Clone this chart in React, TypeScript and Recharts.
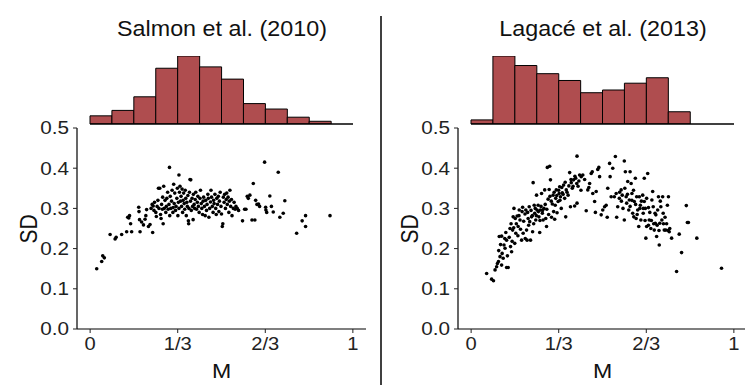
import React from "react";
import {
  BarChart,
  Bar,
  XAxis,
  YAxis,
  ReferenceLine,
  ScatterChart,
  Scatter,
} from "recharts";

const FONT = '"Liberation Sans", Arial, Helvetica, sans-serif';
const BAR_FILL = "#AF4D4F";

// Panel titles and axis labels
const panelTitles = ["Salmon et al. (2010)", "Lagacé et al. (2013)"];
const xAxisTitle = "M";
const yAxisTitle = "SD";

// Ticks
const xTickValues = [0, 1 / 3, 2 / 3, 1];
const xTickLabels = ["0", "1/3", "2/3", "1"];
const yTickValues = [0, 0.1, 0.2, 0.3, 0.4, 0.5];
const yTickLabels = ["0.0", "0.1", "0.2", "0.3", "0.4", "0.5"];

// Histogram bins (12 bins of width 1/12 over M in [0,1])
const binLabels = ["b1", "b2", "b3", "b4", "b5", "b6", "b7", "b8", "b9", "b10", "b11", "b12"];
const salmonHist = [6, 10, 20, 41, 50, 42, 33, 15, 11, 5, 2, 0];
const lagaceHist = [3, 50, 43, 37, 32, 23, 25, 30, 34, 9, 0, 0];

// Scatter points [M, SD]
const salmonPoints: [number, number][] = [
  [0.025, 0.15], [0.044, 0.168], [0.048, 0.182], [0.054, 0.177], [0.076, 0.235], [0.095, 0.224], [0.099, 0.228],
  [0.12, 0.235], [0.139, 0.242], [0.143, 0.278], [0.15, 0.282], [0.154, 0.262], [0.158, 0.242], [0.147, 0.276],
  [0.185, 0.303], [0.186, 0.292], [0.188, 0.272], [0.19, 0.242], [0.196, 0.266], [0.203, 0.259], [0.209, 0.273], [0.215, 0.297], [0.212, 0.282],
  [0.222, 0.255], [0.228, 0.26], [0.238, 0.24], [0.232, 0.3], [0.236, 0.31], [0.24, 0.306], [0.245, 0.315], [0.243, 0.295], [0.25, 0.29],
  [0.252, 0.28], [0.255, 0.305], [0.258, 0.32], [0.26, 0.35], [0.265, 0.35], [0.262, 0.3], [0.268, 0.285], [0.27, 0.275], [0.272, 0.31],
  [0.275, 0.298], [0.278, 0.262], [0.28, 0.355], [0.276, 0.328],
  [0.282, 0.3], [0.285, 0.32], [0.288, 0.29], [0.29, 0.305], [0.292, 0.325], [0.295, 0.34], [0.297, 0.298], [0.3, 0.31], [0.302, 0.402],
  [0.303, 0.282], [0.305, 0.33], [0.307, 0.3], [0.31, 0.318], [0.312, 0.345], [0.315, 0.29], [0.316, 0.302], [0.318, 0.36], [0.32, 0.312],
  [0.322, 0.338], [0.325, 0.295], [0.327, 0.305], [0.33, 0.325], [0.332, 0.35], [0.334, 0.282], [0.336, 0.315], [0.338, 0.383], [0.34, 0.34], [0.338, 0.3],
  [0.342, 0.355], [0.344, 0.318], [0.346, 0.33], [0.348, 0.305], [0.35, 0.348], [0.352, 0.29], [0.354, 0.32], [0.356, 0.338], [0.358, 0.312],
  [0.36, 0.298], [0.362, 0.345], [0.364, 0.325], [0.366, 0.282], [0.368, 0.315], [0.37, 0.305], [0.372, 0.332], [0.374, 0.269], [0.375, 0.262],
  [0.376, 0.3], [0.378, 0.34], [0.38, 0.372], [0.383, 0.371], [0.382, 0.318], [0.385, 0.295], [0.388, 0.325], [0.39, 0.305], [0.392, 0.272],
  [0.393, 0.335], [0.396, 0.31], [0.398, 0.3],
  [0.4, 0.322], [0.402, 0.34], [0.405, 0.298], [0.408, 0.315], [0.41, 0.33], [0.412, 0.305], [0.415, 0.29], [0.418, 0.325], [0.42, 0.345],
  [0.423, 0.312], [0.425, 0.3], [0.428, 0.285], [0.43, 0.318], [0.432, 0.328], [0.435, 0.305], [0.438, 0.282], [0.44, 0.32], [0.443, 0.295],
  [0.445, 0.31], [0.448, 0.335], [0.45, 0.325], [0.452, 0.278], [0.455, 0.3], [0.458, 0.316],
  [0.46, 0.345], [0.462, 0.328], [0.465, 0.305], [0.468, 0.29], [0.47, 0.32], [0.472, 0.312], [0.475, 0.335], [0.478, 0.3], [0.48, 0.285],
  [0.482, 0.325], [0.485, 0.31], [0.488, 0.33], [0.49, 0.292], [0.492, 0.318], [0.495, 0.34], [0.498, 0.305], [0.5, 0.286], [0.503, 0.255],
  [0.505, 0.262], [0.507, 0.328], [0.51, 0.315], [0.512, 0.335], [0.515, 0.3], [0.518, 0.322],
  [0.52, 0.338], [0.522, 0.31], [0.525, 0.328], [0.528, 0.29], [0.53, 0.318], [0.532, 0.345], [0.535, 0.305], [0.538, 0.322], [0.54, 0.282],
  [0.545, 0.3], [0.548, 0.315], [0.552, 0.298], [0.555, 0.305], [0.56, 0.3], [0.565, 0.295], [0.58, 0.269], [0.588, 0.298], [0.593, 0.298],
  [0.598, 0.33], [0.602, 0.325],
  [0.608, 0.333], [0.616, 0.271], [0.621, 0.362], [0.627, 0.271], [0.63, 0.32], [0.635, 0.31], [0.641, 0.311], [0.645, 0.305], [0.664, 0.415],
  [0.669, 0.296], [0.672, 0.29], [0.668, 0.303], [0.684, 0.331], [0.69, 0.305], [0.697, 0.291], [0.716, 0.39], [0.722, 0.278], [0.735, 0.288],
  [0.741, 0.319],
  [0.786, 0.238], [0.807, 0.269], [0.82, 0.282], [0.82, 0.255], [0.913, 0.282],
];

const lagacePoints: [number, number][] = [
  [0.059, 0.138], [0.078, 0.124], [0.085, 0.12], [0.091, 0.147], [0.097, 0.155], [0.104, 0.168], [0.11, 0.18], [0.1, 0.163], [0.116, 0.159],
  [0.122, 0.176], [0.107, 0.23], [0.116, 0.231], [0.125, 0.209], [0.129, 0.201], [0.135, 0.153], [0.141, 0.153], [0.135, 0.221], [0.148, 0.25],
  [0.15, 0.205], [0.154, 0.192], [0.158, 0.246], [0.16, 0.279], [0.166, 0.213], [0.17, 0.238], [0.163, 0.3], [0.175, 0.281], [0.179, 0.255],
  [0.183, 0.296], [0.186, 0.271], [0.192, 0.221], [0.196, 0.303], [0.198, 0.238], [0.205, 0.286], [0.208, 0.296], [0.211, 0.246], [0.213, 0.221],
  [0.217, 0.275], [0.221, 0.304], [0.223, 0.267], [0.226, 0.221], [0.23, 0.279], [0.236, 0.364], [0.234, 0.242], [0.24, 0.308], [0.242, 0.288],
  [0.246, 0.271], [0.249, 0.333], [0.251, 0.296], [0.255, 0.308], [0.258, 0.279], [0.261, 0.24], [0.264, 0.296], [0.268, 0.337], [0.271, 0.288],
  [0.274, 0.271], [0.277, 0.3], [0.28, 0.346], [0.284, 0.275], [0.287, 0.255], [0.29, 0.402], [0.293, 0.323], [0.297, 0.347], [0.299, 0.405],
  [0.302, 0.371], [0.306, 0.278], [0.309, 0.311], [0.312, 0.333], [0.314, 0.292], [0.318, 0.273], [0.322, 0.325], [0.324, 0.346], [0.327, 0.289],
  [0.331, 0.317], [0.335, 0.337], [0.337, 0.354], [0.34, 0.329], [0.343, 0.3], [0.347, 0.339], [0.352, 0.358], [0.356, 0.325], [0.36, 0.279],
  [0.362, 0.346], [0.369, 0.333], [0.375, 0.389], [0.378, 0.304], [0.381, 0.364], [0.385, 0.35], [0.39, 0.371], [0.394, 0.306], [0.398, 0.375],
  [0.403, 0.43], [0.403, 0.313], [0.407, 0.355], [0.413, 0.383], [0.419, 0.379], [0.425, 0.383], [0.438, 0.294], [0.444, 0.346], [0.451, 0.362],
  [0.457, 0.387], [0.461, 0.391], [0.463, 0.337], [0.47, 0.317], [0.473, 0.29], [0.476, 0.342], [0.482, 0.397], [0.486, 0.402], [0.489, 0.379],
  [0.495, 0.284], [0.501, 0.296], [0.508, 0.304], [0.514, 0.308], [0.518, 0.278], [0.52, 0.35], [0.527, 0.412], [0.529, 0.379], [0.533, 0.329],
  [0.539, 0.4], [0.545, 0.329], [0.549, 0.429], [0.552, 0.337], [0.554, 0.278], [0.558, 0.304], [0.564, 0.325], [0.571, 0.346], [0.575, 0.333],
  [0.583, 0.418], [0.583, 0.271], [0.587, 0.391], [0.59, 0.329], [0.592, 0.313], [0.596, 0.367], [0.6, 0.296], [0.602, 0.321], [0.605, 0.391],
  [0.609, 0.362], [0.612, 0.337], [0.615, 0.288], [0.619, 0.279], [0.621, 0.317], [0.625, 0.375], [0.628, 0.275], [0.63, 0.329], [0.634, 0.296],
  [0.638, 0.255], [0.64, 0.329], [0.644, 0.308], [0.646, 0.271], [0.653, 0.333], [0.655, 0.288], [0.659, 0.375], [0.659, 0.317], [0.663, 0.3],
  [0.665, 0.226], [0.668, 0.325], [0.672, 0.387], [0.675, 0.302], [0.678, 0.271], [0.684, 0.25], [0.688, 0.321], [0.691, 0.342], [0.693, 0.304],
  [0.697, 0.246], [0.701, 0.263], [0.703, 0.284], [0.706, 0.23], [0.71, 0.296], [0.713, 0.329], [0.716, 0.209], [0.718, 0.263], [0.722, 0.304],
  [0.726, 0.271], [0.729, 0.329], [0.731, 0.288], [0.735, 0.246], [0.741, 0.246], [0.747, 0.308], [0.751, 0.329], [0.754, 0.242], [0.763, 0.226],
  [0.782, 0.143], [0.792, 0.236], [0.801, 0.19], [0.819, 0.307], [0.823, 0.265], [0.827, 0.265], [0.859, 0.226], [0.953, 0.151],
  [0.105, 0.195], [0.112, 0.21], [0.118, 0.188], [0.128, 0.225], [0.132, 0.24], [0.138, 0.182], [0.145, 0.228], [0.152, 0.262], [0.156, 0.218],
  [0.162, 0.252], [0.168, 0.275], [0.172, 0.262], [0.178, 0.232], [0.182, 0.282], [0.188, 0.248], [0.194, 0.292], [0.2, 0.268], [0.206, 0.225],
  [0.215, 0.29], [0.219, 0.258], [0.228, 0.295], [0.233, 0.282], [0.238, 0.262], [0.244, 0.3], [0.248, 0.282], [0.256, 0.292], [0.262, 0.27],
  [0.266, 0.305], [0.272, 0.295], [0.282, 0.31], [0.288, 0.298], [0.295, 0.285], [0.3, 0.33], [0.305, 0.318], [0.316, 0.34], [0.32, 0.308],
  [0.326, 0.332], [0.333, 0.345], [0.338, 0.32], [0.345, 0.352], [0.35, 0.335], [0.358, 0.365], [0.365, 0.34], [0.372, 0.356], [0.38, 0.372],
  [0.388, 0.355], [0.395, 0.38], [0.402, 0.362], [0.41, 0.368], [0.418, 0.345], [0.432, 0.372], [0.448, 0.352],
  [0.565, 0.34], [0.572, 0.318], [0.578, 0.3], [0.585, 0.35], [0.595, 0.335], [0.605, 0.305], [0.612, 0.32], [0.618, 0.345], [0.626, 0.31],
  [0.632, 0.285], [0.642, 0.3], [0.648, 0.318], [0.655, 0.3], [0.662, 0.27], [0.668, 0.255], [0.675, 0.258], [0.68, 0.29], [0.686, 0.27],
  [0.695, 0.262], [0.7, 0.288], [0.708, 0.258], [0.715, 0.245], [0.72, 0.318], [0.732, 0.262], [0.738, 0.278], [0.744, 0.262], [0.75, 0.245],
  [0.756, 0.25],
];

const TICK_COLOR = "#222";

const labelFor = (values: number[], labels: string[], v: number) => {
  const i = values.findIndex((t) => Math.abs(t - v) < 1e-6);
  return i >= 0 ? labels[i] : "";
};

const XTick = (props: any) => {
  const { x, y, payload } = props;
  return (
    <g transform={`translate(${x},${y})`}>
      <text
        transform="scale(1.12,1)"
        textAnchor="middle"
        dy="0.71em"
        fontSize={18}
        fontFamily={FONT}
        fill={TICK_COLOR}
      >
        {labelFor(xTickValues, xTickLabels, payload.value)}
      </text>
    </g>
  );
};

const YTick = (props: any) => {
  const { x, y, payload } = props;
  return (
    <g transform={`translate(${x},${y})`}>
      <text
        transform="scale(1.15,1)"
        textAnchor="end"
        dy="0.36em"
        fontSize={18}
        fontFamily={FONT}
        fill={TICK_COLOR}
      >
        {labelFor(yTickValues, yTickLabels, payload.value)}
      </text>
    </g>
  );
};

const Dot = (props: any) => {
  const { cx, cy } = props;
  if (cx == null || cy == null) return null;
  return <circle cx={cx} cy={cy} r={1.8} fill="#000" />;
};

const PANEL_W = 381;

function Panel({
  offset,
  title,
  hist,
  points,
}: {
  offset: number;
  title: string;
  hist: number[];
  points: [number, number][];
}) {
  const histData = hist.map((c, i) => ({ bin: binLabels[i], count: c }));
  const scatterData = points.map(([m, sd]) => ({ m, sd }));
  return (
    <div style={{ position: "absolute", left: offset, top: 0, width: PANEL_W, height: 385 }}>
      {/* Histogram of M */}
      <div style={{ position: "absolute", left: 88, top: 54 }}>
        <BarChart
          width={267}
          height={72}
          data={histData}
          margin={{ top: 2, right: 2, bottom: 2, left: 2 }}
          barCategoryGap={0}
          barGap={0}
        >
          <XAxis dataKey="bin" hide />
          <YAxis hide domain={[0, 50]} allowDataOverflow />
          <Bar
            dataKey="count"
            fill={BAR_FILL}
            stroke="#000"
            strokeWidth={1}
            isAnimationActive={false}
          />
          <ReferenceLine y={0} stroke="#000" strokeWidth={1.3} />
        </BarChart>
      </div>
      {/* Scatter of SD vs M */}
      <div style={{ position: "absolute", left: 0, top: 0 }}>
        <ScatterChart
          width={PANEL_W}
          height={385}
          margin={{ top: 128, right: 15, bottom: 26, left: 57 }}
        >
          <XAxis
            type="number"
            dataKey="m"
            domain={[-0.05, 1.05]}
            ticks={xTickValues}
            interval={0}
            allowDataOverflow
            height={30}
            tickSize={4}
            tickMargin={4}
            axisLine={{ stroke: "#000", strokeWidth: 1.2 }}
            tickLine={{ stroke: "#222", strokeWidth: 1 }}
            tick={<XTick />}
          />
          <YAxis
            type="number"
            dataKey="sd"
            domain={[0, 0.5]}
            ticks={yTickValues}
            interval={0}
            allowDataOverflow
            width={20}
            tickSize={4}
            tickMargin={4}
            axisLine={{ stroke: "#000", strokeWidth: 1.2 }}
            tickLine={{ stroke: "#222", strokeWidth: 1 }}
            tick={<YTick />}
          />
          <Scatter data={scatterData} shape={<Dot />} isAnimationActive={false} />
        </ScatterChart>
      </div>
      {/* Titles */}
      <svg
        width={PANEL_W}
        height={385}
        style={{ position: "absolute", left: 0, top: 0, pointerEvents: "none" }}
      >
        <g transform="translate(222,36)">
          <text transform="scale(1.06,1)" textAnchor="middle" fontSize={22} fontFamily={FONT} fill="#111">
            {title}
          </text>
        </g>
        <g transform="translate(221.5,378)">
          <text transform="scale(1.1,1)" textAnchor="middle" fontSize={21} fontFamily={FONT} fill="#111">
            {xAxisTitle}
          </text>
        </g>
        <g transform="translate(37,229) scale(1.12,1) rotate(-90)">
          <text textAnchor="middle" fontSize={21} fontFamily={FONT} fill="#111">
            {yAxisTitle}
          </text>
        </g>
      </svg>
    </div>
  );
}

export default function App() {
  return (
    <div
      style={{
        position: "absolute",
        left: 0,
        top: 0,
        width: 745,
        height: 385,
        overflow: "hidden",
        background: "#fff",
      }}
    >
      <Panel offset={0} title={panelTitles[0]} hist={salmonHist} points={salmonPoints} />
      <Panel offset={PANEL_W} title={panelTitles[1]} hist={lagaceHist} points={lagacePoints} />
      <svg
        width={745}
        height={385}
        style={{ position: "absolute", left: 0, top: 0, pointerEvents: "none" }}
      >
        <line x1={381} y1={16} x2={381} y2={385} stroke="#000" strokeWidth={1.5} />
      </svg>
    </div>
  );
}
